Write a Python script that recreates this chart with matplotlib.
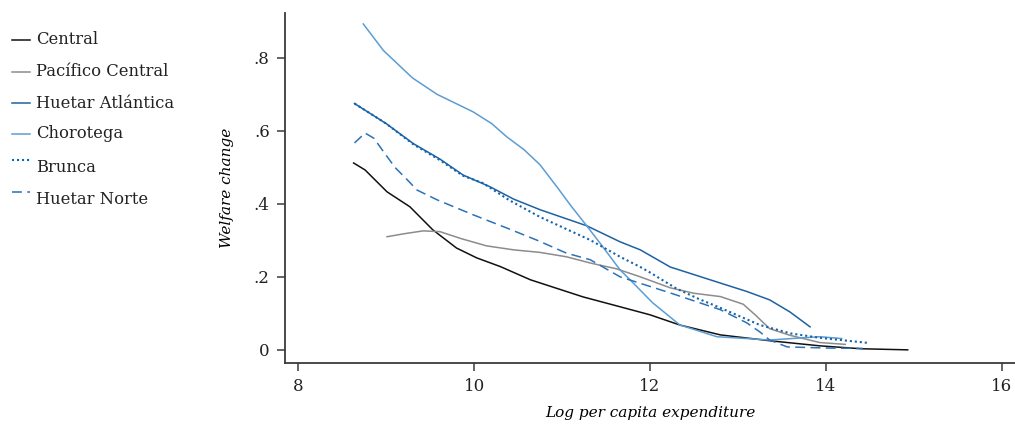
import numpy as np
import matplotlib.pyplot as plt
from matplotlib.lines import Line2D

plt.rcParams['font.family'] = ['DejaVu Serif']

# regional welfare change curves against log per capita expenditure
central_x = [8.63, 8.76, 9.01, 9.27, 9.53, 9.8, 10.03, 10.3, 10.64, 11.24, 11.66, 12.0, 12.34,
             12.8, 13.36, 13.93, 14.4, 14.93]
central_y = [0.512, 0.493, 0.433, 0.392, 0.329, 0.279, 0.252, 0.228, 0.192, 0.145, 0.118, 0.096,
             0.068, 0.041, 0.025, 0.011, 0.003, 0.0]

pacifico_x = [9.01, 9.2, 9.42, 9.61, 9.85, 10.14, 10.45, 10.75, 11.05, 11.32, 11.62, 11.89, 12.23,
              12.5, 12.8, 13.06, 13.2, 13.36, 13.59, 13.93, 14.22]
pacifico_y = [0.31, 0.318, 0.326, 0.324, 0.305, 0.285, 0.274, 0.267, 0.255, 0.238, 0.222, 0.2, 0.17,
              0.155, 0.146, 0.125, 0.095, 0.058, 0.04, 0.02, 0.015]

atlantica_x = [8.64, 9.0, 9.31, 9.61, 9.875, 10.18, 10.45, 10.75, 11.28, 11.66, 11.89, 12.23, 12.8,
               13.1, 13.36, 13.59, 13.82]
atlantica_y = [0.675, 0.62, 0.565, 0.523, 0.479, 0.447, 0.413, 0.384, 0.34, 0.296, 0.274, 0.227,
               0.183, 0.16, 0.137, 0.104, 0.063]

chorotega_x = [8.74, 8.97, 9.3, 9.58, 9.99, 10.2, 10.37, 10.57, 10.75, 10.95, 11.1, 11.28, 11.43,
               11.66, 11.74, 12.03, 12.34, 12.76, 13.36, 13.93, 14.18]
chorotega_y = [0.893, 0.82, 0.745, 0.70, 0.652, 0.62, 0.584, 0.548, 0.507, 0.444, 0.395, 0.34,
               0.293, 0.219, 0.2, 0.129, 0.068, 0.036, 0.027, 0.036, 0.031]

brunca_x = [8.64, 9.0, 9.31, 9.61, 9.875, 10.1, 10.4, 10.75, 11.32, 11.66, 11.89, 12.0, 12.3, 12.55,
            12.8, 13.25, 13.6, 13.93, 14.48]
brunca_y = [0.675, 0.62, 0.563, 0.52, 0.477, 0.457, 0.41, 0.364, 0.301, 0.255, 0.227, 0.212, 0.168,
            0.14, 0.115, 0.068, 0.045, 0.033, 0.019]

norte_x = [8.64, 8.76, 8.86, 8.97, 9.1, 9.24, 9.35, 9.58, 9.99, 10.37, 10.72, 11.05, 11.32, 11.66,
           12.23, 12.8, 13.1, 13.25, 13.36, 13.56, 14.0, 14.42]
norte_y = [0.567, 0.594, 0.58, 0.543, 0.5, 0.466, 0.438, 0.411, 0.37, 0.334, 0.3, 0.265, 0.247, 0.2,
           0.156, 0.11, 0.074, 0.049, 0.027, 0.008, 0.005, 0.004]

labels = ['Central', 'Pacífico Central', 'Huetar Atlántica', 'Chorotega', 'Brunca', 'Huetar Norte']
series = [(central_x, central_y), (pacifico_x, pacifico_y), (atlantica_x, atlantica_y),
          (chorotega_x, chorotega_y), (brunca_x, brunca_y), (norte_x, norte_y)]
colors = ['#111111', '#8c8c8c', '#1c62a4', '#5c9dd3', '#1464ac', '#2b72b9']
styles = ['-', '-', '-', '-', (0, (1, 1.4)), (0, (6.5, 3.5))]
widths = [1.1, 1.1, 1.1, 1.1, 1.5, 1.1]

fig = plt.figure(figsize=(10.15, 4.24), dpi=100)
ax = fig.add_axes([0.2808, 0.1439, 0.7192, 0.8254])

for (xs, ys), c, ls, lw in zip(series, colors, styles, widths):
    ax.plot(xs, ys, color=c, linestyle=ls, linewidth=lw)

ax.set_xlim(7.85, 16.15)
ax.set_ylim(-0.036, 0.923)
ax.set_xticks([8, 10, 12, 14, 16])
ax.set_yticks([0, 0.2, 0.4, 0.6, 0.8])
ax.set_yticklabels(['0', '.2', '.4', '.6', '.8'])
for s in ['top', 'right']:
    ax.spines[s].set_visible(False)
for s in ['left', 'bottom']:
    ax.spines[s].set_color('#3a3a3a')
    ax.spines[s].set_linewidth(1.3)
ax.tick_params(axis='both', length=6, width=1.1, color='#3a3a3a', labelsize=12,
               labelcolor='#222222', pad=5)
ax.set_xlabel('Log per capita expenditure', style='italic', fontsize=11, labelpad=8)
ax.set_ylabel('Welfare change', style='italic', fontsize=11, labelpad=14)

# legend drawn by hand in figure pixels
W, H = 1015, 424
row_y = [40, 72, 103, 134, 167, 199]
offsets = [0, 0, 0, 0, 7, 7]
for lab, yy, off, c, ls, lw in zip(labels, row_y, offsets, colors, styles, widths):
    fig.add_artist(Line2D([12 / W, 30 / W], [1 - (yy - off) / H] * 2, color=c, linestyle=ls,
                          linewidth=lw, transform=fig.transFigure))
    fig.text(36 / W, 1 - yy / H, lab, fontsize=11.8, va='center', ha='left', color='#222222')

fig.savefig('out.png', dpi=100)
